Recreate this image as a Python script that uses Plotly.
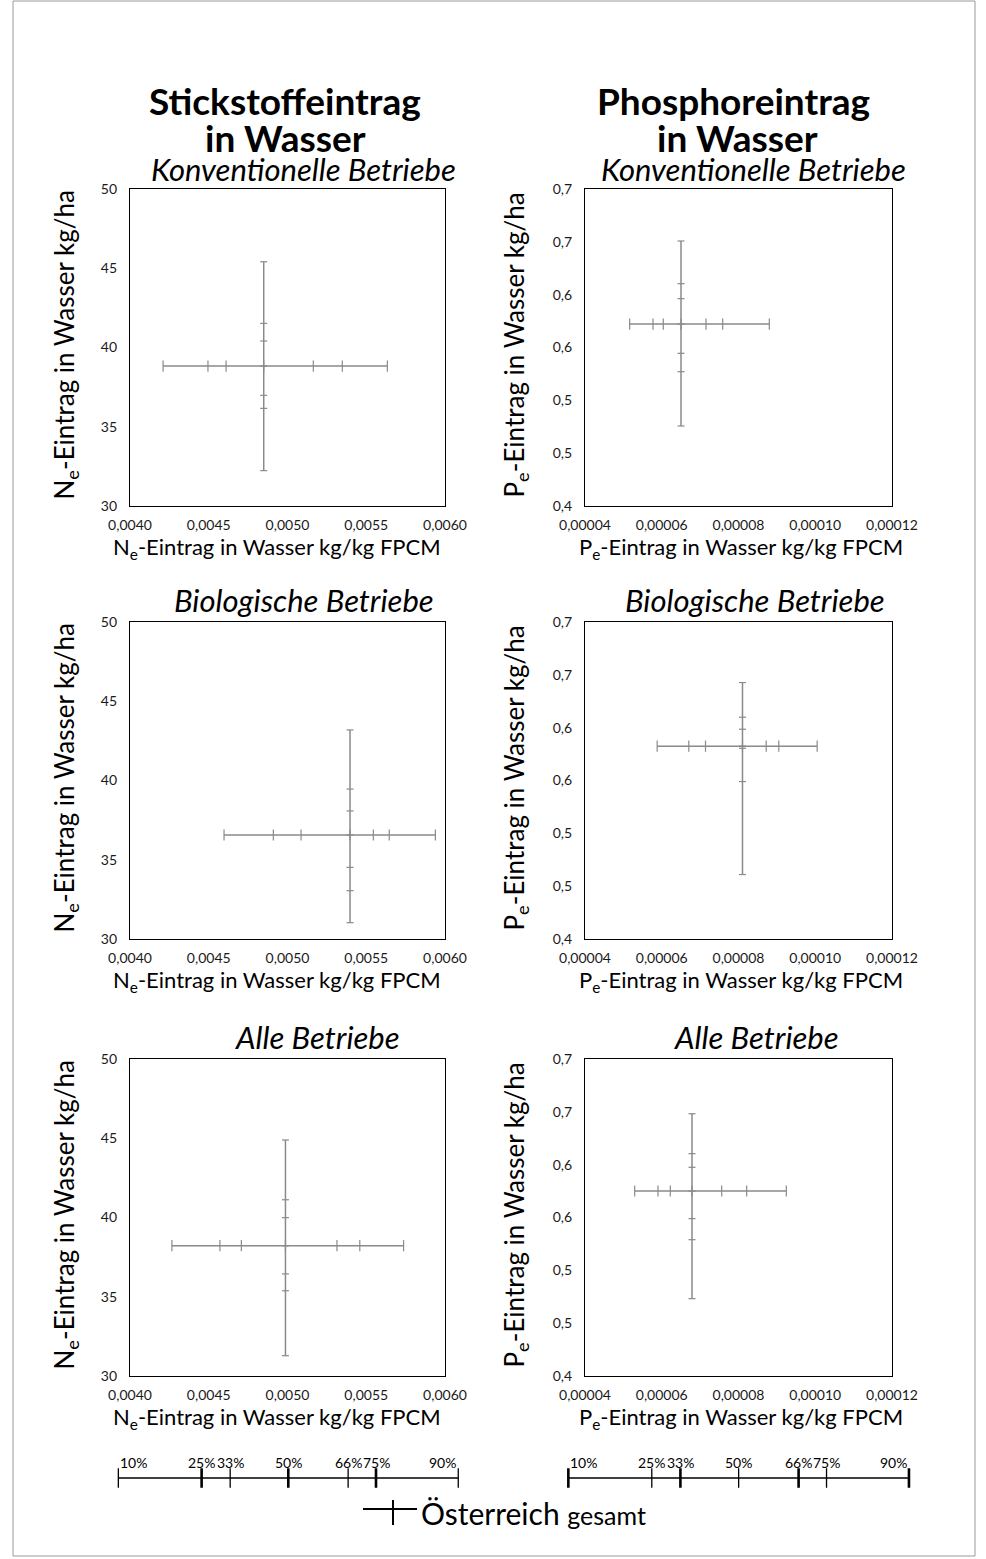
import plotly.graph_objects as go

# percentiles shown on every cross: 10, 25, 33, 50, 66, 75, 90 %
perc_labels = ["10%", "25%", "33%", "50%", "66%", "75%", "90%"]

# Stickstoff (kg/kg FPCM on x, kg/ha on y)
n_konv_x = [0.00421, 0.004495, 0.00461, 0.004849, 0.005164, 0.005348, 0.005634]
n_konv_y = [32.23, 36.16, 36.98, 38.83, 40.41, 41.52, 45.41]
n_bio_x = [0.004597, 0.00491, 0.005086, 0.005397, 0.005545, 0.005646, 0.005939]
n_bio_y = [31.03, 33.05, 34.52, 36.56, 38.08, 39.46, 43.19]
n_alle_x = [0.004266, 0.004571, 0.004707, 0.004987, 0.005314, 0.005459, 0.005737]
n_alle_y = [31.28, 35.38, 36.44, 38.22, 39.99, 41.12, 44.89]

# Phosphor
p_konv_x = [5.164e-5, 5.772e-5, 6.04e-5, 6.502e-5, 7.153e-5, 7.588e-5, 8.803e-5]
p_konv_y = [0.4757, 0.5271, 0.5445, 0.5722, 0.5962, 0.6104, 0.6508]
p_bio_x = [5.881e-5, 6.705e-5, 7.14e-5, 8.104e-5, 8.722e-5, 9.05e-5, 1.005e-4]
p_bio_y = [0.461, 0.549, 0.5805, 0.5825, 0.5985, 0.6099, 0.6427]
p_alle_x = [5.295e-5, 5.902e-5, 6.223e-5, 6.788e-5, 7.562e-5, 8.213e-5, 9.246e-5]
p_alle_y = [0.4732, 0.529, 0.5489, 0.5751, 0.5975, 0.6104, 0.6482]

# axis ticks
n_xticks = [0.004, 0.0045, 0.005, 0.0055, 0.006]
n_xtext = ["0,0040", "0,0045", "0,0050", "0,0055", "0,0060"]
n_yticks = [30, 35, 40, 45, 50]
n_ytext = ["30", "35", "40", "45", "50"]
p_xticks = [0.00004, 0.00006, 0.00008, 0.00010, 0.00012]
p_xtext = ["0,00004", "0,00006", "0,00008", "0,00010", "0,00012"]
p_yticks = [0.40, 0.45, 0.50, 0.55, 0.60, 0.65, 0.70]
p_ytext = ["0,4", "0,5", "0,5", "0,6", "0,6", "0,7", "0,7"]

# relative positions of the percentiles on the key scale below the charts
key_pos = [0.0, 0.245, 0.329, 0.5, 0.676, 0.758, 1.0]
key_width_left = [1.3, 2.6, 1.3, 2.6, 1.3, 2.6, 1.3]
key_width_right = [2.6, 1.3, 2.6, 1.3, 2.6, 1.3, 2.6]

W, H = 986, 1559
FONT = "Lato, Carlito, Calibri, sans-serif"
GREY = "#8a8a8a"


def fx(p):
    return p / W


def fy(p):
    return 1 - p / H


cols = {"N": (130, 445), "P": (585, 892)}
row_tops = [189, 622, 1059]
PLOT_H = 317

panels = [
    ("N", 0, n_konv_x, n_konv_y),
    ("P", 0, p_konv_x, p_konv_y),
    ("N", 1, n_bio_x, n_bio_y),
    ("P", 1, p_bio_x, p_bio_y),
    ("N", 2, n_alle_x, n_alle_y),
    ("P", 2, p_alle_x, p_alle_y),
]

fig = go.Figure()
layout = {}
annotations = []

for i, (kind, row, xs, ys) in enumerate(panels, start=1):
    xa = "x" if i == 1 else f"x{i}"
    ya = "y" if i == 1 else f"y{i}"
    mid_x, mid_y = xs[3], ys[3]
    # horizontal whisker (x percentiles)
    fig.add_trace(go.Scatter(
        x=xs, y=[mid_y] * len(xs), xaxis=xa, yaxis=ya, mode="lines+markers",
        line=dict(color=GREY, width=1.5),
        marker=dict(symbol="line-ns", size=8, line=dict(color=GREY, width=1.2)),
        showlegend=False, hoverinfo="x+y",
    ))
    # vertical whisker (y percentiles)
    fig.add_trace(go.Scatter(
        x=[mid_x] * len(ys), y=ys, xaxis=xa, yaxis=ya, mode="lines+markers",
        line=dict(color=GREY, width=1.5),
        marker=dict(symbol="line-ew", size=5, line=dict(color=GREY, width=1.2)),
        showlegend=False, hoverinfo="x+y",
    ))

    x0, x1 = cols[kind]
    top = row_tops[row]
    bottom = top + PLOT_H
    if kind == "N":
        xr, xt, xtt = [0.004, 0.006], n_xticks, n_xtext
        yr, yt, ytt = [30, 50], n_yticks, n_ytext
    else:
        xr, xt, xtt = [0.00004, 0.00012], p_xticks, p_xtext
        yr, yt, ytt = [0.4, 0.7], p_yticks, p_ytext

    common = dict(showgrid=False, zeroline=False, showline=True, linecolor="black",
                  linewidth=1.2, mirror=True, ticks="", automargin=False,
                  tickfont=dict(family=FONT, size=14, color="#1a1a1a"))
    layout["xaxis" if i == 1 else f"xaxis{i}"] = dict(
        domain=[fx(x0), fx(x1)], anchor=ya, range=xr, tickmode="array",
        tickvals=xt, ticktext=xtt, ticklabelstandoff=6, **common)
    layout["yaxis" if i == 1 else f"yaxis{i}"] = dict(
        domain=[fy(bottom), fy(top)], anchor=xa, range=yr, tickmode="array",
        tickvals=yt, ticktext=ytt, ticklabelstandoff=9, **common)

    sym = "N" if kind == "N" else "P"
    annotations.append(dict(
        text=f"{sym}<sub>e</sub>-Eintrag in Wasser kg/kg FPCM",
        x=fx(277 if kind == "N" else 741), y=fy(bottom + 42), xref="paper", yref="paper",
        showarrow=False, font=dict(family=FONT, size=22, color="black"),
        xanchor="center", yanchor="middle"))
    annotations.append(dict(
        text=f"{sym}<sub>e</sub>-Eintrag in Wasser kg/ha",
        x=fx(65 if kind == "N" else 515), y=fy(top + PLOT_H / 2 - 2), xref="paper",
        yref="paper", textangle=-90, showarrow=False,
        font=dict(family=FONT, size=26, color="black"),
        xanchor="center", yanchor="middle"))

# headings
headings = [
    ("<b>Stickstoffeintrag</b>", 285, 101, 37),
    ("<b>in Wasser</b>", 285, 138, 37),
    ("<b>Phosphoreintrag</b>", 733, 101, 37),
    ("<b>in Wasser</b>", 737, 138, 37),
    ("<i>Konventionelle Betriebe</i>", 303, 169, 31),
    ("<i>Konventionelle Betriebe</i>", 753, 169, 31),
    ("<i>Biologische Betriebe</i>", 304, 600, 31),
    ("<i>Biologische Betriebe</i>", 755, 600, 31),
    ("<i>Alle Betriebe</i>", 317, 1037, 31),
    ("<i>Alle Betriebe</i>", 756, 1037, 31),
]
for text, x, y, size in headings:
    annotations.append(dict(text=text, x=fx(x), y=fy(y), xref="paper", yref="paper",
                            showarrow=False, font=dict(family=FONT, size=size, color="black"),
                            xanchor="center", yanchor="middle"))

# percentile key scales
key_axes = [(7, 118.3, 458.3, key_width_left), (8, 568.3, 909.0, key_width_right)]
for n, k0, k1, widths in key_axes:
    fig.add_trace(go.Scatter(
        x=key_pos, y=[0] * len(key_pos), xaxis=f"x{n}", yaxis=f"y{n}",
        mode="lines+markers", line=dict(color="black", width=1.5),
        marker=dict(symbol="line-ns", size=14, line=dict(color="black", width=widths)),
        showlegend=False, hoverinfo="skip"))
    layout[f"xaxis{n}"] = dict(domain=[fx(k0 - 2), fx(k1 + 2)], anchor=f"y{n}",
                               range=[-0.006, 1.006], visible=False, automargin=False)
    layout[f"yaxis{n}"] = dict(domain=[fy(1498), fy(1458)], anchor=f"x{n}",
                               range=[-1, 1], visible=False, automargin=False)
    for j, (lab, pos) in enumerate(zip(perc_labels, key_pos)):
        anchor = "left" if j == 0 else ("right" if j == len(key_pos) - 1 else "center")
        annotations.append(dict(text=lab, x=pos, y=fy(1462), xref=f"x{n}", yref="paper",
                                showarrow=False, xanchor=anchor, yanchor="middle",
                                font=dict(family=FONT, size=14, color="black")))

# legend entry: Österreich gesamt
annotations.append(dict(
    text="Österreich <span style='font-size:25px'>gesamt</span>",
    x=fx(419), y=fy(1513), xref="paper", yref="paper", showarrow=False,
    xanchor="left", yanchor="middle", font=dict(family=FONT, size=30, color="black")))

shapes = [
    dict(type="line", xref="paper", yref="paper", x0=fx(363), x1=fx(417),
         y0=fy(1509), y1=fy(1509), line=dict(color="black", width=2)),
    dict(type="line", xref="paper", yref="paper", x0=fx(393), x1=fx(393),
         y0=fy(1500), y1=fy(1525), line=dict(color="black", width=2)),
    # outer frame of the figure
    dict(type="rect", xref="paper", yref="paper", x0=fx(13), x1=fx(975),
         y0=fy(1556), y1=fy(1), line=dict(color="#9a9a9a", width=1)),
]

fig.update_layout(
    width=W, height=H, margin=dict(l=0, r=0, t=0, b=0, autoexpand=False),
    paper_bgcolor="white", plot_bgcolor="white",
    annotations=annotations, shapes=shapes, showlegend=False,
    **layout,
)

# the page body has a default margin; drop it so the figure sits at the window origin
fig.write_html("out.html", config={"displayModeBar": False},
               post_script="document.body.style.margin = '0px';")
